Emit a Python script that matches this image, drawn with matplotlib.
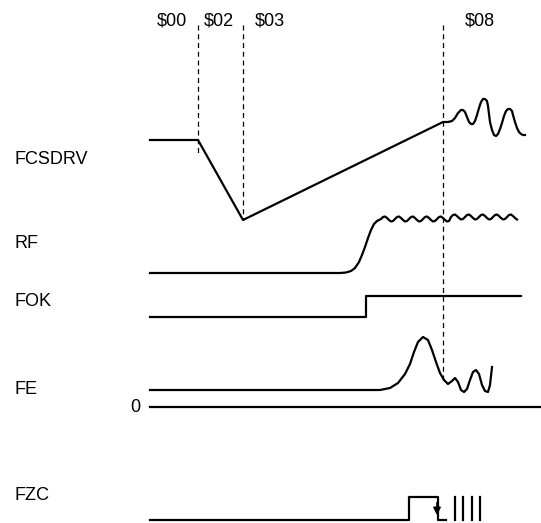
import matplotlib.pyplot as plt

plt.rcParams['font.family'] = ['Liberation Sans', 'DejaVu Sans']

# signal names and label rows
signal_names = ['FCSDRV', 'RF', 'FOK', 'FE', 'FZC']
label_y = [159, 244, 302, 390, 495]

# state markers at the top
state_names = ['$00', '$02', '$03', '$08']
state_x = [172, 219, 270, 480]
state_y = 21

# dashed state boundaries: x, top, bottom
bound_x = [198, 243, 443]
bound_top = [25, 25, 25]
bound_bot = [155, 220, 382]

# FCSDRV
fcs_x = [150, 198, 243, 443, 448, 452, 455, 458, 461, 463, 465, 467, 469, 471, 473,
         475, 477, 479, 481, 483, 485, 487, 488, 489, 490, 492, 494, 496, 498, 500,
         502, 504, 506, 508, 510, 512, 513, 515, 517, 519, 521, 523, 525]
fcs_y = [140, 140, 220, 122, 122, 121, 118, 113, 110, 110, 112, 117, 122, 124, 124,
         121, 115, 108, 102, 99, 99, 101, 106, 114, 122, 130, 135, 136, 134, 129,
         123, 116, 111, 109, 109, 111, 115, 122, 128, 132, 134, 135, 135]

# RF
rf_x = [150, 340, 346, 351, 355, 359, 362, 365, 368, 371, 374, 377, 379,
        381, 383, 385, 387, 389, 391, 393, 395, 397, 399, 401, 403, 405, 407,
        409, 411, 413, 415, 417, 419, 421, 423, 425, 427, 429, 431, 433, 435,
        437, 439, 441, 443, 445, 447, 449, 451, 453, 455, 457, 459, 461, 463,
        465, 467, 469, 471, 473, 475, 477, 479, 481, 483, 485, 487, 489, 491,
        493, 495, 497, 499, 501, 503, 505, 507, 509, 511, 513, 515, 517]
rf_y = [273, 273, 272.5, 271, 268, 262, 255, 247, 238, 230, 224, 221, 220,
        219, 217, 216.5, 218, 220, 221.5, 221, 219, 217, 216.5, 218, 220, 221.5, 221,
        219, 217, 216.5, 218, 220, 221.5, 221, 219, 217, 216.5, 218, 220, 221.5, 221,
        219, 217, 216.5, 218, 220, 221.5, 221, 217, 215, 214.5, 216, 218, 219.5, 219,
        217, 215, 214.5, 216, 218, 219.5, 219, 217, 215, 214.5, 216, 218, 219.5, 219,
        217, 215, 214.5, 216, 218, 219.5, 219, 217, 215, 214.5, 216, 218, 219.5]

# FOK
fok_x = [150, 366, 366, 521]
fok_y = [317, 317, 296, 296]

# FE
fe_x = [150, 380, 390, 398, 405, 410, 414, 418, 423, 428, 432, 436, 440, 444, 448,
        452, 455, 458, 461, 464, 467, 470, 473, 476, 479, 482, 485, 488, 490, 492]
fe_y = [390, 390, 388, 383, 374, 364, 352, 342, 337, 340, 350, 362, 373, 380, 384,
        381, 378, 382, 390, 392, 389, 380, 372, 370, 374, 385, 391, 392, 385, 367]
zero_y = 407

# FZC
fzc_x = [150, 409, 409, 438, 438, 446]
fzc_y = [520, 520, 497, 497, 520, 520]
pulse_x = [455, 463, 472, 480]

fig = plt.figure(figsize=(5.41, 5.23), dpi=100)
ax = fig.add_axes([0, 0, 1, 1])
ax.set_xlim(0, 541)
ax.set_ylim(523, 0)
ax.axis('off')

lw = 1.6
for xs, ys in [(fcs_x, fcs_y), (rf_x, rf_y), (fok_x, fok_y), (fe_x, fe_y), (fzc_x, fzc_y)]:
    ax.plot(xs, ys, color='black', lw=lw, solid_joinstyle='round')

ax.plot([150, 540], [zero_y, zero_y], color='black', lw=lw)
for px in pulse_x:
    ax.plot([px, px], [497, 520], color='black', lw=lw)

for bx, t, b in zip(bound_x, bound_top, bound_bot):
    ax.plot([bx, bx], [t, b], color='black', lw=0.9, linestyle=(0, (4, 3)))

# arrow on the falling edge of FZC
ax.annotate('', xy=(437, 518), xytext=(437, 500),
            arrowprops=dict(arrowstyle='-|>', color='black', lw=1.2, mutation_scale=11))

for name, y in zip(signal_names, label_y):
    ax.text(15, y, name, fontsize=13, va='center', ha='left')
ax.text(140, zero_y, '0', fontsize=13, va='center', ha='right')

for name, x in zip(state_names, state_x):
    ax.text(x, state_y, name, fontsize=13, va='center', ha='center')

fig.savefig('out.png', dpi=100)
